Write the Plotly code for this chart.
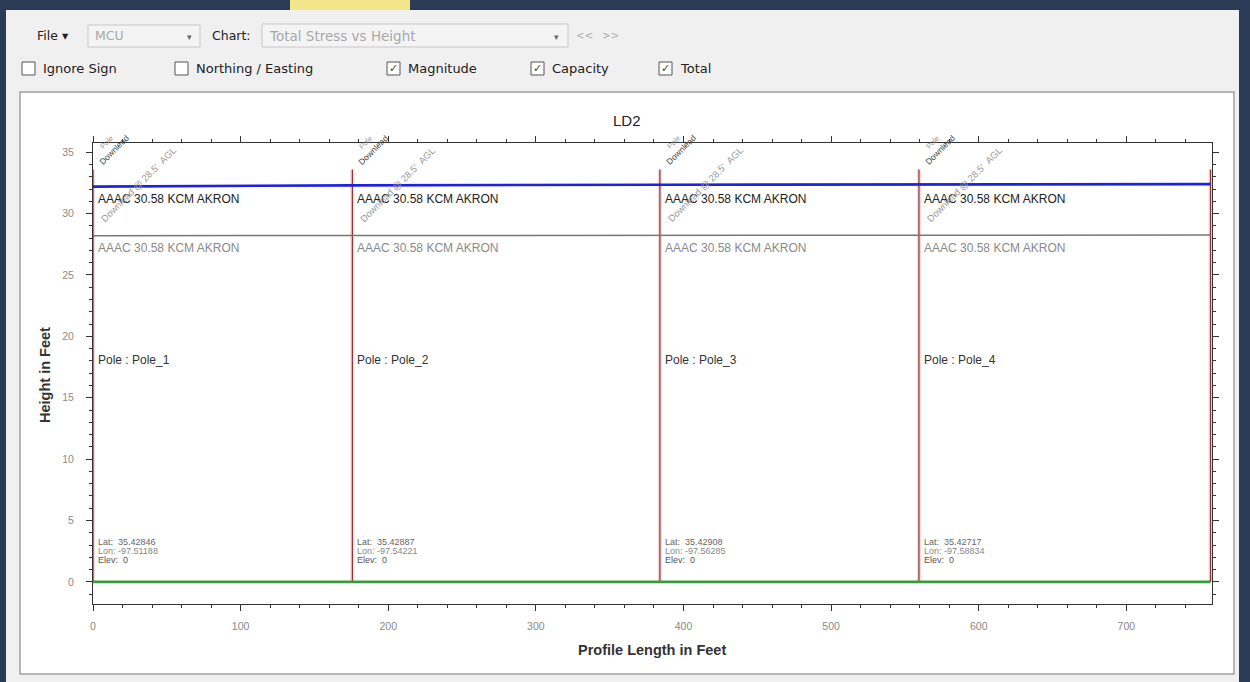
import plotly.graph_objects as go

# ---------------- data ----------------
pole_x = [0, 175.7, 384, 559.5, 757]
pole_names = ["Pole_1", "Pole_2", "Pole_3", "Pole_4"]
pole_top = 33.6
upper_wire_y = [32.2, 32.3, 32.35, 32.4, 32.4]
lower_wire_y = [28.2, 28.2, 28.25, 28.25, 28.25]
ground_y = [0, 0]
ground_x = [0, 757]
wire_label = "AAAC 30.58 KCM AKRON"
lat_vals = ["35.42846", "35.42887", "35.42908", "35.42717"]
lon_vals = ["-97.51188", "-97.54221", "-97.56285", "-97.58834"]
x_ticks = [0, 100, 200, 300, 400, 500, 600, 700]
y_ticks = [0, 5, 10, 15, 20, 25, 30, 35]

W, H = 1250, 682
ML, MR, MT, MB = 93, 38, 143, 78
PW, PH = W - ML - MR, H - MT - MB


def px(x):
    return (x - ML) / PW


def py(y):
    return (H - MB - y) / PH


FONT = "Liberation Sans"
fig = go.Figure()

# poles: pink glow + dark red line
for x in pole_x:
    fig.add_trace(go.Scatter(x=[x, x], y=[0, pole_top], mode="lines",
                             line=dict(color="rgba(235,170,170,0.45)", width=4),
                             hoverinfo="skip", showlegend=False))
    fig.add_trace(go.Scatter(x=[x, x], y=[0, pole_top], mode="lines",
                             line=dict(color="#8c3434", width=1.2),
                             hoverinfo="skip", showlegend=False))

fig.add_trace(go.Scatter(x=pole_x, y=lower_wire_y, mode="lines",
                         line=dict(color="#777777", width=1.5), showlegend=False))
fig.add_trace(go.Scatter(x=pole_x, y=upper_wire_y, mode="lines",
                         line=dict(color="#2020e0", width=2.6), showlegend=False))
fig.add_trace(go.Scatter(x=ground_x, y=ground_y, mode="lines",
                         line=dict(color="#3c9a3c", width=2.6), showlegend=False))

ann = []
for i, name in enumerate(pole_names):
    x = pole_x[i]
    ann.append(dict(x=x, y=31.2, text=wire_label, xanchor="left", xshift=3,
                    showarrow=False, font=dict(family=FONT, size=12, color="#222")))
    ann.append(dict(x=x, y=27.2, text=wire_label, xanchor="left", xshift=3,
                    showarrow=False, font=dict(family=FONT, size=12, color="#8a8a8a")))
    ann.append(dict(x=x, y=18.1, text="Pole : " + name, xanchor="left", xshift=3,
                    showarrow=False, font=dict(family=FONT, size=12, color="#333")))
    ann.append(dict(x=x, y=3.25, text="Lat:  " + lat_vals[i], xanchor="left", xshift=3,
                    showarrow=False, font=dict(family=FONT, size=9, color="#666")))
    ann.append(dict(x=x, y=2.5, text="Lon: " + lon_vals[i], xanchor="left", xshift=3,
                    showarrow=False, font=dict(family=FONT, size=9, color="#888")))
    ann.append(dict(x=x, y=1.75, text="Elev:  0", xanchor="left", xshift=3,
                    showarrow=False, font=dict(family=FONT, size=9, color="#555")))
    # rotated top labels
    ann.append(dict(x=x, y=pole_top, text="Downlead", xanchor="left", yanchor="bottom",
                    textangle=-45, showarrow=False, xshift=1,
                    font=dict(family=FONT, size=8.5, color="#444")))
    ann.append(dict(x=x, y=34.9, text="Pole", xanchor="left", yanchor="bottom",
                    textangle=-45, showarrow=False, xshift=2,
                    font=dict(family=FONT, size=7.5, color="#999")))
    ann.append(dict(x=x, y=28.9, text="Downlead @ 28.5'  AGL", xanchor="left", yanchor="bottom",
                    textangle=-45, showarrow=False, xshift=3,
                    font=dict(family=FONT, size=9.5, color="#9a9a9a")))


def pann(x, y, text, size, color, family=FONT, xanchor="center", angle=0):
    ann.append(dict(xref="paper", yref="paper", x=px(x), y=py(y), text=text,
                    xanchor=xanchor, yanchor="middle", textangle=angle, showarrow=False,
                    font=dict(family=family, size=size, color=color)))


# title & axis titles
pann(627, 121, "LD2", 15, "#222")
pann(652, 650, "<b>Profile Length in Feet</b>", 14.5, "#333")
pann(45, 375, "<b>Height in Feet</b>", 14.5, "#333", angle=-90)

# toolbar
UI = "DejaVu Sans"
shapes = []
# dark frame
shapes.append(dict(type="rect", xref="paper", yref="paper", x0=px(0), x1=px(W), y0=py(0), y1=py(10),
                   fillcolor="#2c3b55", line_width=0, layer="below"))
shapes.append(dict(type="rect", xref="paper", yref="paper", x0=px(290), x1=px(410), y0=py(0), y1=py(10),
                   fillcolor="#f3e58a", line_width=0, layer="below"))
shapes.append(dict(type="rect", xref="paper", yref="paper", x0=px(0), x1=px(6), y0=py(0), y1=py(H),
                   fillcolor="#2c3b55", line_width=0, layer="below"))
shapes.append(dict(type="rect", xref="paper", yref="paper", x0=px(1239), x1=px(W), y0=py(0), y1=py(H),
                   fillcolor="#2c3b55", line_width=0, layer="below"))
# white chart panel
shapes.append(dict(type="rect", xref="paper", yref="paper", x0=px(20), x1=px(1234), y0=py(92), y1=py(674),
                   fillcolor="white", line=dict(color="#a0a0a0", width=1.5), layer="below"))
# combo boxes
shapes.append(dict(type="rect", xref="paper", yref="paper", x0=px(88), x1=px(200), y0=py(25), y1=py(47),
                   fillcolor="#f4f4f4", line=dict(color="#c8c8c8", width=1), layer="below"))
shapes.append(dict(type="rect", xref="paper", yref="paper", x0=px(262), x1=px(568), y0=py(24), y1=py(47),
                   fillcolor="#f4f4f4", line=dict(color="#c8c8c8", width=1), layer="below"))

pann(35, 36, "File ▾", 12.5, "#222", UI, "left")
pann(93, 36, "MCU", 12.5, "#a8a8a8", UI, "left")
pann(189, 37, "▾", 9, "#666", UI)
pann(210, 36, "Chart:", 12.5, "#222", UI, "left")
pann(267, 36, "Total Stress vs Height", 13.5, "#a8a8a8", UI, "left")
pann(556, 37, "▾", 9, "#666", UI)
pann(574, 36, "<<   >>", 10, "#aaaaaa", UI, "left")

checks = [(22, "Ignore Sign", False), (175, "Northing / Easting", False),
          (387, "Magnitude", True), (531, "Capacity", True), (659, "Total", True)]
for bx, label, on in checks:
    shapes.append(dict(type="rect", xref="paper", yref="paper", x0=px(bx), x1=px(bx + 13),
                       y0=py(62), y1=py(75), fillcolor="white",
                       line=dict(color="#555", width=1), layer="above"))
    if on:
        pann(bx + 6.5, 68.5, "✓", 11, "#444", "DejaVu Sans")
    pann(bx + 19, 68, label, 13, "#222", UI, "left")

fig.update_layout(
    width=W, height=H, margin=dict(l=ML, r=MR, t=MT, b=MB),
    paper_bgcolor="#f0f0f0", plot_bgcolor="white",
    annotations=ann, shapes=shapes, showlegend=False,
    xaxis=dict(range=[0, 758], tickvals=x_ticks, showgrid=False, zeroline=False,
               showline=True, linecolor="#333", linewidth=1, mirror="ticks",
               ticks="outside", ticklen=6, tickcolor="#333",
               minor=dict(dtick=20, ticks="outside", ticklen=3, tickcolor="#333", showgrid=False),
               tickfont=dict(family=FONT, size=10.5, color="#8a8a8a"), ticklabelstandoff=6),
    yaxis=dict(range=[-1.8, 35.75], tickvals=y_ticks, showgrid=False, zeroline=False,
               showline=True, linecolor="#333", linewidth=1, mirror="ticks",
               ticks="outside", ticklen=6, tickcolor="#333",
               minor=dict(dtick=1, ticks="outside", ticklen=3, tickcolor="#333", showgrid=False),
               tickfont=dict(family=FONT, size=10.5, color="#8a8a8a"), ticklabelstandoff=10),
)

fig.write_html("out.html", config={"displayModeBar": False},
               post_script="document.body.style.margin='0';document.body.style.overflow='hidden';")
